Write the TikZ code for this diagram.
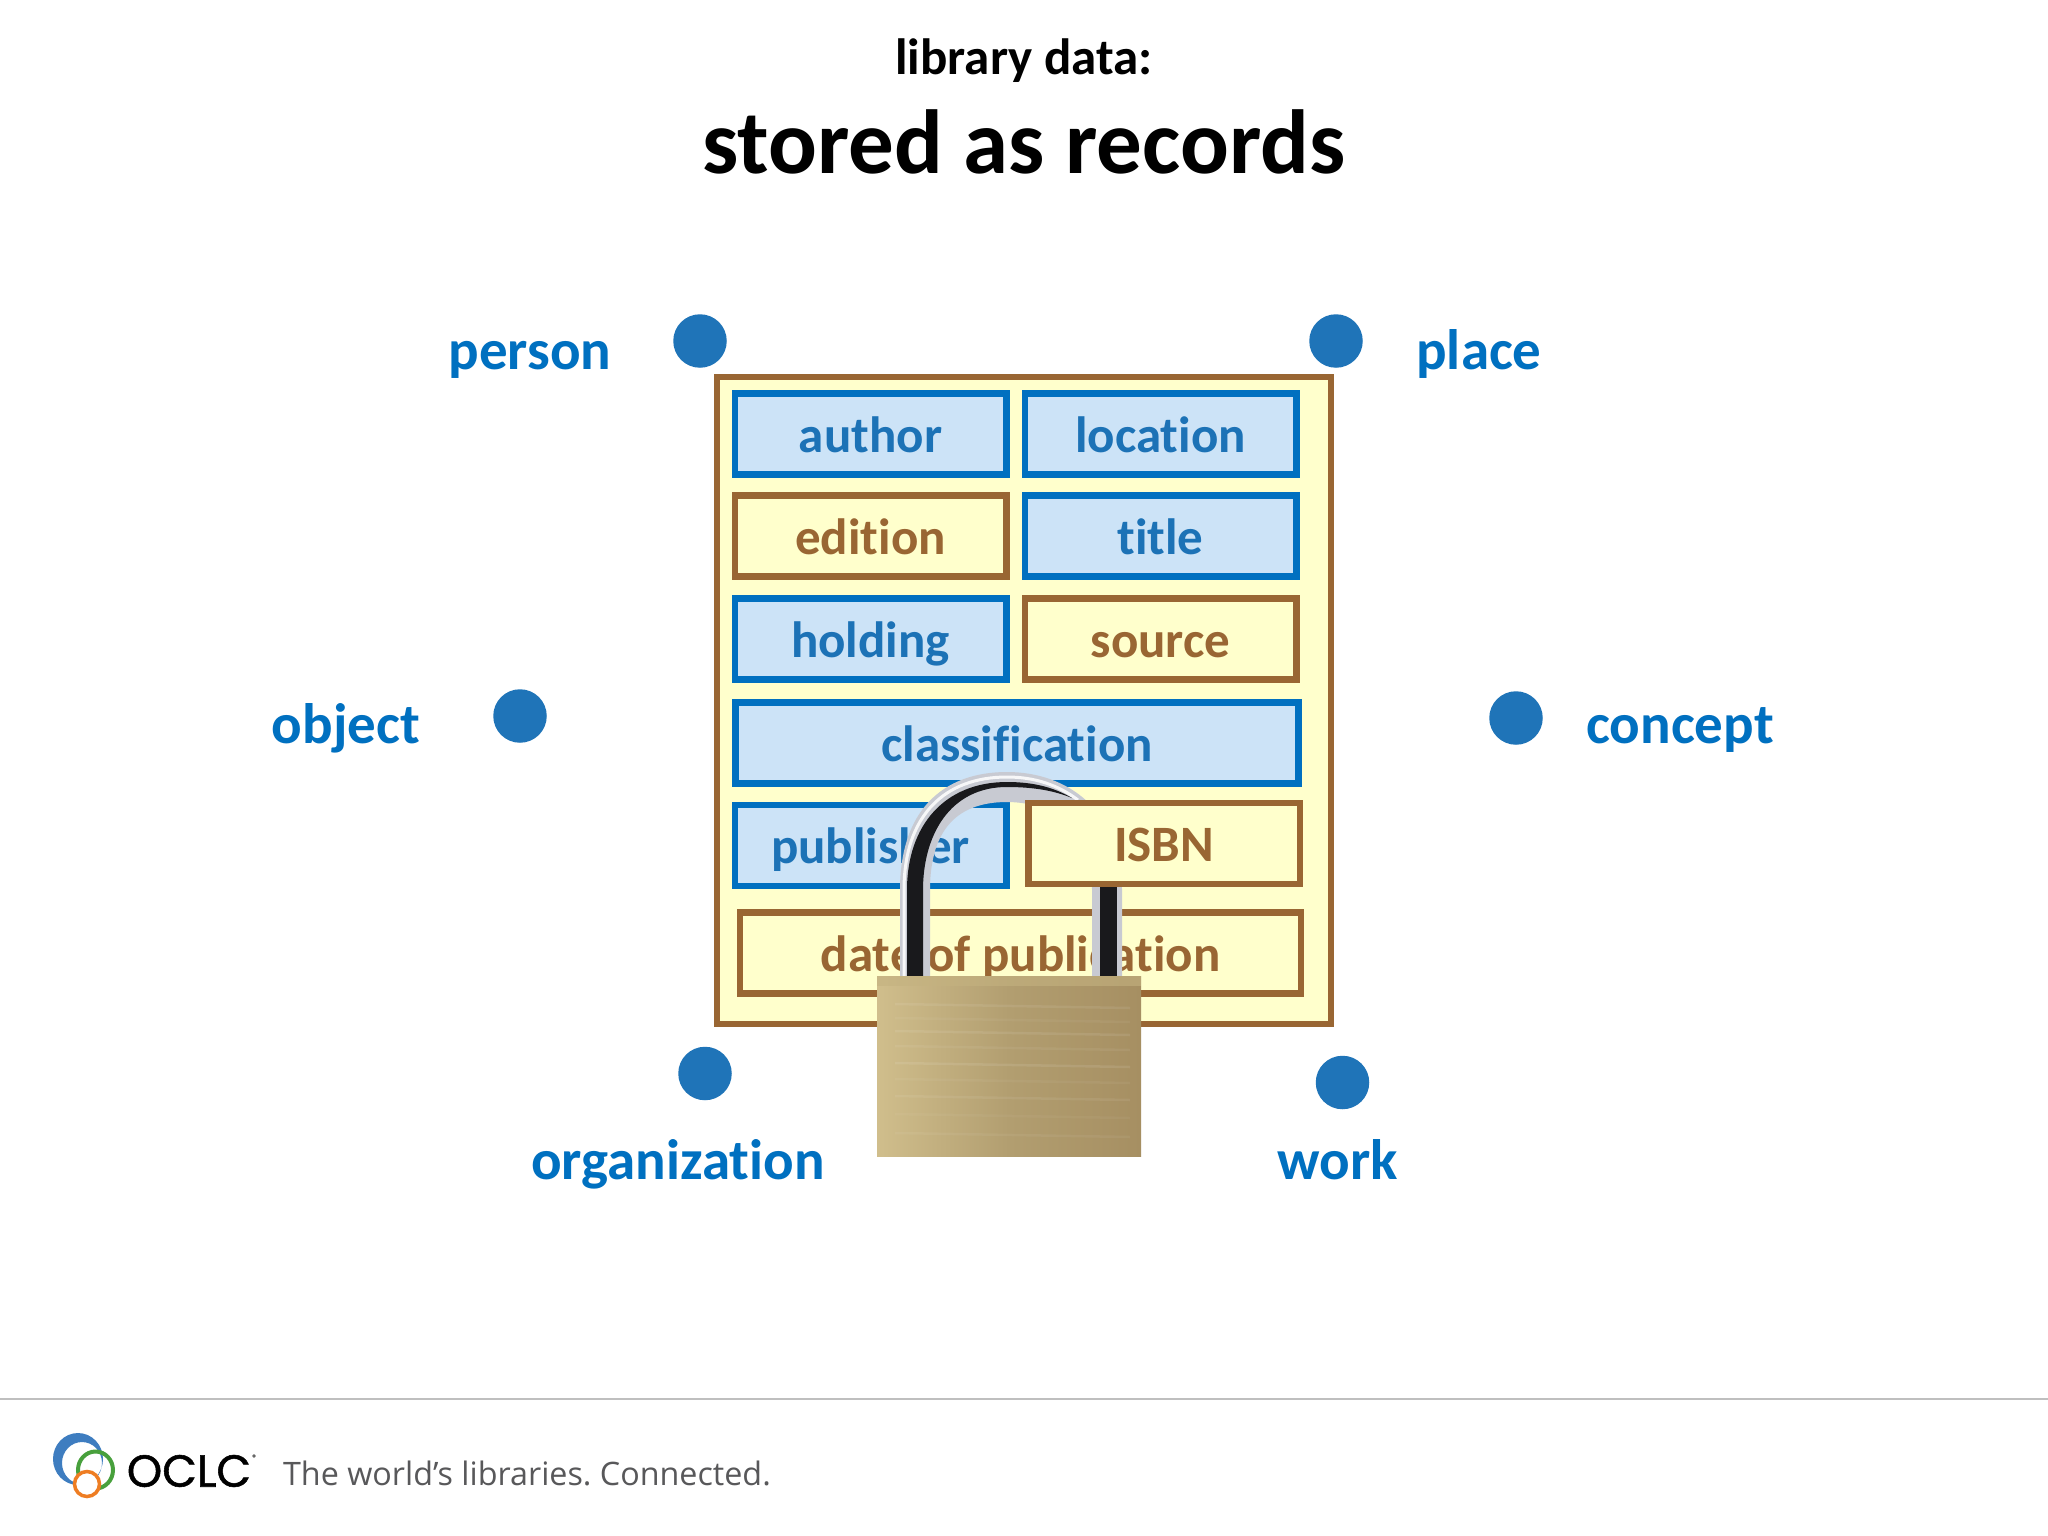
\documentclass[tikz,border=0pt]{standalone}
\usepackage{fontspec}
\setmainfont{Carlito}[Ligatures=NoCommon]
\newfontfamily\oclcfont{Poppins}[FakeBold=1.2]
\newfontfamily\tagfont{Open Sans}
\definecolor{oclcblue}{RGB}{0,112,192}
\definecolor{dotblue}{RGB}{31,116,184}
\definecolor{textblue}{RGB}{28,114,182}
\definecolor{paleblue}{RGB}{204,227,247}
\definecolor{brown}{RGB}{153,102,51}
\definecolor{paleyellow}{RGB}{255,255,204}
\definecolor{shacklegray}{RGB}{200,202,210}
\definecolor{shackleblack}{RGB}{25,25,28}
\tikzset{
  bluebox/.style={draw=oclcblue, fill=paleblue, line width=6.5pt, text=textblue, inner sep=0pt, text height=36pt, text depth=0pt, font=\fontsize{51}{61}\selectfont\bfseries},
  brownbox/.style={draw=brown, fill=paleyellow, line width=6.5pt, text=brown, inner sep=0pt, text height=36pt, text depth=0pt, font=\fontsize{51}{61}\selectfont\bfseries},
  halfbox/.style={minimum width=271.5pt, minimum height=81pt},
  dot/.style={circle, fill=dotblue, minimum size=53.5pt, inner sep=0pt},
  entity/.style={anchor=base, text=oclcblue, inner sep=0pt, font=\fontsize{57}{68}\selectfont\bfseries},
}
\begin{document}
\begin{tikzpicture}[x=1pt, y=-1pt]%
\useasboundingbox (0, 0) rectangle (2048, 1536);%
\fill[white] (0, 0) rectangle (2048, 1536);%
\node[anchor=base, inner sep=0pt, font=\fontsize{51}{61}\selectfont\bfseries] (kicker) at (1024, 74.5) {library data:};%
\node[anchor=base, inner sep=0pt, font=\fontsize{91}{109}\selectfont\bfseries] (headline) at (1024, 174) {stored as records};%
\draw[draw=brown, fill=paleyellow, line width=6.5pt] (717, 377) rectangle (1331, 1024);%
\node[bluebox, halfbox] (author) at (870.5, 434) {author};%
\node[bluebox, halfbox] (location) at (1160.5, 434) {location};%
\node[brownbox, halfbox] (edition) at (870.5, 536) {edition};%
\node[bluebox, halfbox] (title) at (1160.5, 536) {title};%
\node[bluebox, halfbox] (holding) at (870.5, 639) {holding};%
\node[brownbox, halfbox] (source) at (1160.5, 639) {source};%
\node[bluebox, minimum width=563pt, minimum height=81pt] (classification) at (1017, 743) {classification};%
\node[bluebox, halfbox] (publisher) at (870.5, 845.5) {publisher};%
\node[brownbox, minimum width=561pt, minimum height=81pt] (date) at (1020.5, 953) {date of publication};%
\draw[line width=30pt, draw=shacklegray] (915, 976) -- (915, 890) .. controls (915, 820) and (950, 787) .. (1007, 787) .. controls (1060, 787) and (1107, 820) .. (1107, 890) -- (1107, 976);%
\draw[line width=3pt, draw=white!85!shacklegray] (904, 976) -- (904, 890) .. controls (904, 815) and (945, 777) .. (1007, 777) .. controls (1035, 777) and (1058, 785) .. (1078, 800);%
\fill[shackleblack] (907, 976) -- (907, 890) .. controls (907, 825) and (945, 782) .. (1007, 782) .. controls (1035, 782) and (1055, 788) .. (1072, 798) .. controls (1055, 791) and (1035, 787) .. (1007, 787) .. controls (950, 787) and (923, 835) .. (923, 890) -- (923, 976) -- cycle;%
\fill[shackleblack] (1100, 880) rectangle (1117, 976);%
\node[brownbox, minimum width=271.5pt, minimum height=81pt] (isbn) at (1164, 843.5) {ISBN};%
\shade[left color={rgb,255:red,208;green,190;blue,140}, right color={rgb,255:red,166;green,143;blue,98}, middle color={rgb,255:red,178;green,158;blue,112}] (877, 976) rectangle (1141, 1156);%
\fill[fill={rgb,255:red,196;green,178;blue,128}, opacity=0.6] (877, 976) rectangle (1141, 986);%
\foreach \streak/\tone in {1004/20, 1018/12, 1031/22, 1046/15, 1063/24, 1079/12, 1096/18, 1114/10, 1133/14}
  \draw[line width=2.5pt, draw=white, opacity=0.004*\tone] (895, \streak) -- (1130, \streak + 4);%
\node[dot] (persondot) at (700, 341) {};%
\node[dot] (placedot) at (1336, 341) {};%
\node[dot] (objectdot) at (520, 716) {};%
\node[dot] (conceptdot) at (1516, 718) {};%
\node[dot] (organizationdot) at (705, 1073.5) {};%
\node[dot] (workdot) at (1342.5, 1082.5) {};%
\node[entity] (person) at (530, 369) {person};%
\node[entity] (place) at (1479, 369) {place};%
\node[entity] (object) at (346, 743) {object};%
\node[entity] (concept) at (1680, 743) {concept};%
\node[entity] (organization) at (678, 1179) {organization};%
\node[entity] (work) at (1338, 1179) {work};%
\draw[line width=2.5pt, draw={rgb,255:red,191;green,191;blue,191}] (0, 1399) -- (2048, 1399);%
\fill[even odd rule, fill={rgb,255:red,62;green,125;blue,192}] (78, 1459) ellipse (25 and 26) (82, 1463) ellipse (20 and 21);%
\draw[line width=4pt, draw={rgb,255:red,72;green,160;blue,60}] (95.5, 1470) ellipse (17.5 and 18.5);%
\draw[line width=3.5pt, draw={rgb,255:red,238;green,125;blue,35}, fill=white] (87, 1484) ellipse (12.5 and 12.5);%
\node[inner sep=0pt, font=\fontsize{45}{54}\selectfont\oclcfont] (oclc) at (189, 1471) {OCLC};%
\node[inner sep=0pt, text=black!60, font=\fontsize{7}{8}\selectfont\oclcfont] (registered) at (254, 1457) {®};%
\node[inner sep=0pt, text={rgb,255:red,88;green,88;blue,90}, font=\fontsize{32.3}{40}\selectfont\tagfont\frenchspacing] (tagline) at (527, 1473) {The world’s libraries. Connected.};%
\end{tikzpicture}
\end{document}
